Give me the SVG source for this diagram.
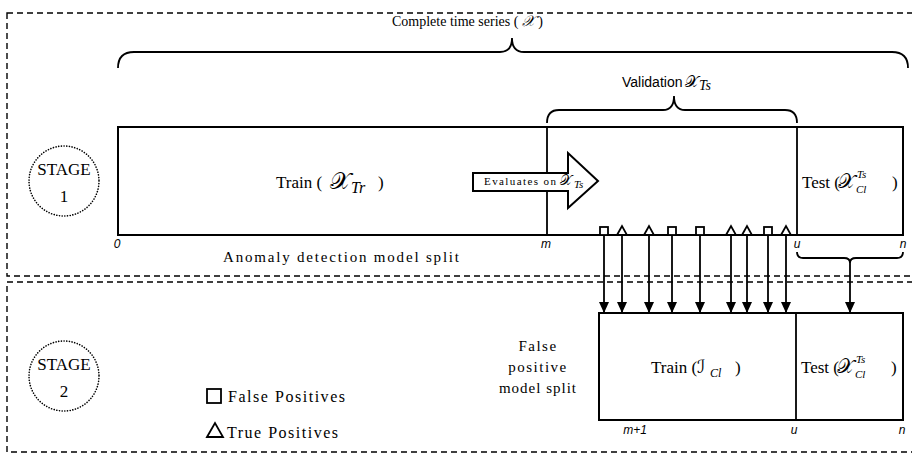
<svg xmlns="http://www.w3.org/2000/svg" width="912" height="453" viewBox="0 0 912 453">
<defs>
<style>
.dash{fill:none;stroke:#000;stroke-width:1.4;stroke-dasharray:6 4}
.dot{fill:none;stroke:#000;stroke-width:1.6;stroke-dasharray:0.1 2.6;stroke-linecap:round}
.box{fill:#fff;stroke:#000;stroke-width:2}
.ln{stroke:#000;stroke-width:1.8;fill:none}
.mk{fill:#fff;stroke:#000;stroke-width:1.8}
.serif{font-family:"Liberation Serif","Times New Roman",serif;fill:#000}
.sans{font-family:"Liberation Sans",Arial,sans-serif;fill:#000}
.idx{font-family:"Liberation Sans",Arial,sans-serif;font-style:italic;font-size:12px;text-anchor:middle;fill:#000}
.math{font-family:"DejaVu Serif","DejaVu Sans",serif;fill:#000}
.it{font-family:"Liberation Serif",serif;font-style:italic;fill:#000}
</style>
<marker id="ah" markerUnits="userSpaceOnUse" markerWidth="11" markerHeight="10" refX="11" refY="5" orient="auto">
<path d="M0,0 L11,5 L0,10 z" fill="#000"/>
</marker>
</defs>

<g id="stage1-frame"><rect class="dash" x="7" y="13" width="930" height="263"/></g>
<g id="stage2-frame"><rect class="dash" x="7" y="282" width="930" height="170"/></g>

<g id="title">
<text class="serif" x="392" y="26" font-size="14">Complete time series ( <tspan class="math" font-style="italic" font-size="15">𝒳</tspan> )</text>
<path class="ln" d="M118,68 Q118,52 134,52 H500 Q512,52 512,38 Q512,52 524,52 H892 Q908,52 908,68"/>
</g>

<g id="validation">
<text class="sans" x="622" y="87" font-size="14">Validation</text>
<text class="math" x="685" y="87" font-size="16">𝒳</text>
<text class="it" x="699" y="90" font-size="14">Ts</text>
<path class="ln" d="M547,123 Q547,110 559,110 H663 Q674,110 674,96 Q674,110 685,110 H785 Q797,110 797,123"/>
</g>

<g id="stage1">
<circle class="dot" cx="64" cy="181" r="35"/>
<text class="serif" x="64" y="175" font-size="17" text-anchor="middle">STAGE</text>
<text class="serif" x="64" y="202" font-size="17" text-anchor="middle">1</text>
</g>

<g id="split1">
<rect class="box" x="118" y="127" width="785" height="108"/>
<line class="ln" x1="547" y1="127" x2="547" y2="235" stroke-width="2"/>
<line class="ln" x1="797" y1="127" x2="797" y2="235" stroke-width="2"/>
<text class="serif" x="276" y="188" font-size="17">Train ( </text>
<text class="math" x="330" y="189" font-size="24">𝒳</text>
<text class="it" x="351" y="193" font-size="16">Tr</text>
<text class="serif" x="378" y="188" font-size="17">)</text>
<text class="serif" x="802" y="188" font-size="17">Test (</text>
<text class="math" x="838" y="188" font-size="20">𝒳</text>
<text class="it" x="856" y="193" font-size="11">Cl</text>
<text class="it" x="857" y="178" font-size="11">Ts</text>
<text class="serif" x="892" y="188" font-size="17">)</text>
<text class="idx" x="117" y="248">0</text>
<text class="idx" x="546" y="248">m</text>
<text class="idx" x="797" y="248">u</text>
<text class="idx" x="903" y="248">n</text>
<text class="serif" x="223" y="262" font-size="15" textLength="236" lengthAdjust="spacing">Anomaly detection model split</text>
</g>

<g id="evaluates">
<polygon class="box" points="473,173 568,173 568,153 598,181 568,208 568,191 473,191"/>
<text class="serif" x="484" y="185" font-size="11" textLength="72" lengthAdjust="spacing">Evaluates on</text>
<text class="math" x="560" y="185" font-size="14">𝒳</text>
<text class="it" x="574" y="188" font-size="11">Ts</text>
</g>

<g id="markers">
<rect class="mk" x="600" y="227" width="8" height="8"/>
<rect class="mk" x="668" y="227" width="8" height="8"/>
<rect class="mk" x="696" y="227" width="8" height="8"/>
<rect class="mk" x="764" y="227" width="8" height="8"/>
<polygon class="mk" points="617,235 622,226 627,235"/>
<polygon class="mk" points="644,235 649,226 654,235"/>
<polygon class="mk" points="726,235 731,226 736,235"/>
<polygon class="mk" points="742,235 747,226 752,235"/>
<polygon class="mk" points="781,235 786,226 791,235"/>
</g>

<g id="connectors">
<line class="ln" x1="604" y1="235" x2="604" y2="313" marker-end="url(#ah)"/>
<line class="ln" x1="622" y1="235" x2="622" y2="313" marker-end="url(#ah)"/>
<line class="ln" x1="649" y1="235" x2="649" y2="313" marker-end="url(#ah)"/>
<line class="ln" x1="672" y1="235" x2="672" y2="313" marker-end="url(#ah)"/>
<line class="ln" x1="700" y1="235" x2="700" y2="313" marker-end="url(#ah)"/>
<line class="ln" x1="731" y1="235" x2="731" y2="313" marker-end="url(#ah)"/>
<line class="ln" x1="747" y1="235" x2="747" y2="313" marker-end="url(#ah)"/>
<line class="ln" x1="768" y1="235" x2="768" y2="313" marker-end="url(#ah)"/>
<line class="ln" x1="786" y1="235" x2="786" y2="313" marker-end="url(#ah)"/>
<path class="ln" d="M797,252 Q797,258 803,258 H844 Q850,258 850,263 Q850,258 856,258 H897 Q903,258 903,252"/>
<line class="ln" x1="850" y1="263" x2="850" y2="313" marker-end="url(#ah)"/>
</g>

<g id="stage2">
<circle class="dot" cx="64" cy="376" r="35"/>
<text class="serif" x="64" y="370" font-size="17" text-anchor="middle">STAGE</text>
<text class="serif" x="64" y="397" font-size="17" text-anchor="middle">2</text>
</g>

<g id="fp-label">
<text class="serif" x="538" y="351" font-size="15" text-anchor="middle" letter-spacing="1.5">False</text>
<text class="serif" x="538" y="372" font-size="15" text-anchor="middle" letter-spacing="1.5">positive</text>
<text class="serif" x="538" y="393" font-size="15" text-anchor="middle" letter-spacing="1">model split</text>
</g>

<g id="split2">
<rect class="box" x="599" y="313" width="304" height="107"/>
<line class="ln" x1="796" y1="313" x2="796" y2="420" stroke-width="2"/>
<text class="serif" x="651" y="373" font-size="17">Train (</text>
<text class="math" x="697" y="373" font-size="18">ℐ</text>
<text class="it" x="710" y="377" font-size="12">Cl</text>
<text class="serif" x="735" y="373" font-size="17">)</text>
<text class="serif" x="801" y="373" font-size="17">Test (</text>
<text class="math" x="837" y="373" font-size="20">𝒳</text>
<text class="it" x="855" y="378" font-size="11">Cl</text>
<text class="it" x="856" y="363" font-size="11">Ts</text>
<text class="serif" x="891" y="373" font-size="17">)</text>
<text class="idx" x="635" y="434">m+1</text>
<text class="idx" x="794" y="434">u</text>
<text class="idx" x="902" y="434">n</text>
</g>

<g id="legend">
<rect class="mk" x="207" y="389" width="14" height="14"/>
<text class="serif" x="228" y="402" font-size="16" textLength="117" lengthAdjust="spacing">False Positives</text>
<polygon class="mk" points="207,437 215,423 223,437"/>
<text class="serif" x="227" y="438" font-size="16" textLength="111" lengthAdjust="spacing">True Positives</text>
</g>
</svg>
